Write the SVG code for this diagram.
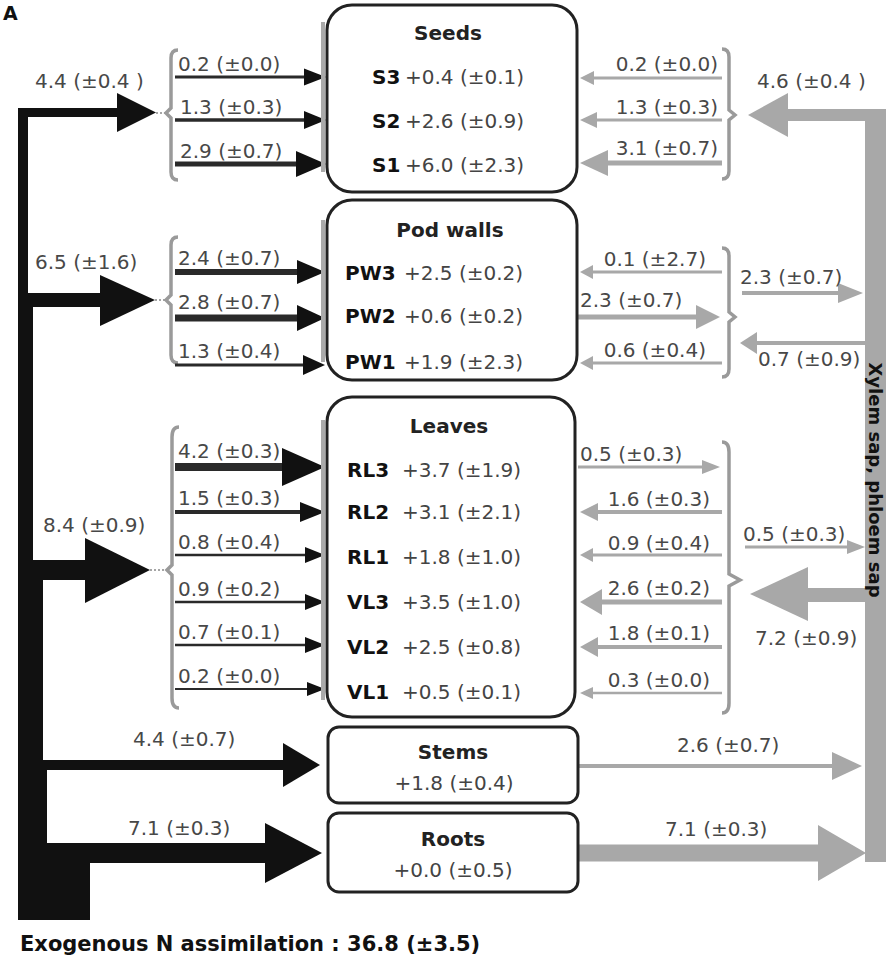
<svg xmlns="http://www.w3.org/2000/svg" width="886" height="959" viewBox="0 0 886 959">
<style>
text{font-family:"DejaVu Sans","Liberation Sans",sans-serif;}
.lbl{font-size:20px;fill:#484848;}
.nm{font-weight:bold;fill:#111;}
.val{fill:#444;}
.row{font-size:20px;}
.ttl{font-size:20px;font-weight:bold;fill:#222;text-anchor:middle;}
.end{text-anchor:end;}
.box{fill:#fff;stroke:#222;stroke-width:3;}
.edge{stroke:#aaa;stroke-width:4;}
.blk{fill:#111;}
.dk{stroke:#2a2a2a;}
.dkf{fill:#111;}
.gr{stroke:#a8a8a8;}
.grf{fill:#a8a8a8;}
.brk{fill:none;stroke:#9a9a9a;stroke-width:3.5;}
.dot{stroke:#888;stroke-width:1.5;stroke-dasharray:2 2;}
</style>
<rect width="886" height="959" fill="#fff"/>
<text x="3" y="20" font-size="19" font-weight="bold" fill="#111">A</text>

<g id="connectors">
  <!-- black trunk -->
  <path class="blk" d="M18,108 L120,108 L120,117 L28,117 L28,293 L105,293 L105,307 L33,307 L33,560 L90,560 L90,580 L43,580 L43,760 L285,760 L285,770 L47,770 L47,843 L268,843 L268,863 L90,863 L90,920 L18,920 Z"/>
  <polygon class="blk" points="117,93 156,112.5 117,132"/>
  <polygon class="blk" points="100,275 155,300 100,326"/>
  <polygon class="blk" points="85,538 150,570 85,603"/>
  <polygon class="blk" points="283,743 320,765 283,787"/>
  <polygon class="blk" points="265,823 322,853 265,883"/>
  <line class="dot" x1="156" y1="113" x2="166" y2="113"/>
  <line class="dot" x1="155" y1="300" x2="166" y2="300"/>
  <line class="dot" x1="150" y1="570" x2="167" y2="570"/>

  <!-- left brackets -->
  <path class="brk" d="M178,50 Q171,50 171,58 L171,108 L166,113 L171,118 L171,172 Q171,180 178,180"/>
  <path class="brk" d="M178,237 Q171,237 171,245 L171,295 L166,300 L171,305 L171,355 Q171,363 178,363"/>
  <path class="brk" d="M179,427 Q172,427 172,437 L172,565 L167,570 L172,575 L172,698 Q172,708 179,708"/>

  <!-- right brackets -->
  <path class="brk" d="M722,49 Q729,49 729,57 L729,110 L735,115 L729,120 L729,171 Q729,179 722,179"/>
  <path class="brk" d="M722,248 Q729,248 729,256 L729,312 L735,317 L729,322 L729,369 Q729,377 722,377"/>
  <path class="brk" d="M722,442 Q729,442 729,452 L729,574 L740,580 L729,586 L729,703 Q729,713 722,713"/>

  <!-- seeds in -->
  <line class="dk" x1="175" y1="77" x2="306" y2="77" stroke-width="3"/>
  <polygon class="dkf" points="304,68.5 326,77 304,85.5"/>
  <line class="dk" x1="175" y1="120" x2="306" y2="120" stroke-width="3.5"/>
  <polygon class="dkf" points="304,111 326,120 304,129"/>
  <line class="dk" x1="175" y1="164" x2="298" y2="164" stroke-width="5"/>
  <polygon class="dkf" points="296,151 326,164 296,177"/>

  <!-- pod walls in -->
  <line class="dk" x1="175" y1="272" x2="300" y2="272" stroke-width="6"/>
  <polygon class="dkf" points="297,260 325,272 297,284"/>
  <line class="dk" x1="175" y1="318" x2="300" y2="318" stroke-width="7"/>
  <polygon class="dkf" points="297,305 325,318 297,331"/>
  <line class="dk" x1="175" y1="365" x2="306" y2="365" stroke-width="3"/>
  <polygon class="dkf" points="303,355 325,365 303,375"/>

  <!-- leaves in -->
  <line class="dk" x1="175" y1="467" x2="285" y2="467" stroke-width="8"/>
  <polygon class="dkf" points="282,448 325,467 282,486"/>
  <line class="dk" x1="175" y1="512" x2="302" y2="512" stroke-width="4"/>
  <polygon class="dkf" points="300,502 325,512 300,522"/>
  <line class="dk" x1="175" y1="555" x2="306" y2="555" stroke-width="2.5"/>
  <polygon class="dkf" points="305,547 325,555 305,563"/>
  <line class="dk" x1="175" y1="602" x2="306" y2="602" stroke-width="2.5"/>
  <polygon class="dkf" points="305,594 325,602 305,610"/>
  <line class="dk" x1="175" y1="645" x2="306" y2="645" stroke-width="2.5"/>
  <polygon class="dkf" points="305,637 325,645 305,653"/>
  <line class="dk" x1="175" y1="689" x2="308" y2="689" stroke-width="2"/>
  <polygon class="dkf" points="307,682 325,689 307,696"/>

  <!-- seeds out -->
  <line class="gr" x1="590" y1="78" x2="722" y2="78" stroke-width="3"/>
  <polygon class="grf" points="594,71 580,78 594,85"/>
  <line class="gr" x1="590" y1="120" x2="722" y2="120" stroke-width="3"/>
  <polygon class="grf" points="597,112 580,120 597,128"/>
  <line class="gr" x1="600" y1="163" x2="722" y2="163" stroke-width="5"/>
  <polygon class="grf" points="608,150 580,163 608,176"/>

  <!-- pod walls out -->
  <line class="gr" x1="590" y1="272" x2="722" y2="272" stroke-width="3"/>
  <polygon class="grf" points="593,265 580,272 593,279"/>
  <line class="gr" x1="578" y1="317" x2="700" y2="317" stroke-width="5"/>
  <polygon class="grf" points="696,305 720,317 696,329"/>
  <line class="gr" x1="590" y1="363" x2="722" y2="363" stroke-width="3"/>
  <polygon class="grf" points="593,356 580,363 593,370"/>

  <!-- leaves out -->
  <line class="gr" x1="578" y1="467" x2="705" y2="467" stroke-width="3"/>
  <polygon class="grf" points="702,460 720,467 702,474"/>
  <line class="gr" x1="595" y1="512" x2="722" y2="512" stroke-width="4"/>
  <polygon class="grf" points="598,503 580,512 598,521"/>
  <line class="gr" x1="590" y1="555" x2="722" y2="555" stroke-width="3"/>
  <polygon class="grf" points="593,548 580,555 593,562"/>
  <line class="gr" x1="598" y1="602" x2="722" y2="602" stroke-width="5"/>
  <polygon class="grf" points="602,589 580,602 602,615"/>
  <line class="gr" x1="595" y1="647" x2="722" y2="647" stroke-width="4"/>
  <polygon class="grf" points="598,637 580,647 598,657"/>
  <line class="gr" x1="590" y1="693" x2="722" y2="693" stroke-width="2.5"/>
  <polygon class="grf" points="593,687 580,693 593,699"/>

  <!-- right gray bar and outer arrows -->
  <rect class="grf" x="865" y="109" width="25" height="753"/>
  <line class="gr" x1="785" y1="115" x2="870" y2="115" stroke-width="12"/>
  <polygon class="grf" points="788,93 748,115 788,137"/>
  <line class="gr" x1="742" y1="293" x2="840" y2="293" stroke-width="4"/>
  <polygon class="grf" points="838,283 863,293 838,303"/>
  <line class="gr" x1="755" y1="343" x2="866" y2="343" stroke-width="4"/>
  <polygon class="grf" points="757,332 740,343 757,354"/>
  <line class="gr" x1="745" y1="547" x2="850" y2="547" stroke-width="3"/>
  <polygon class="grf" points="847,540 865,547 847,554"/>
  <line class="gr" x1="805" y1="595" x2="866" y2="595" stroke-width="14"/>
  <polygon class="grf" points="808,567 750,594 808,621"/>
  <line class="gr" x1="578" y1="766" x2="835" y2="766" stroke-width="4"/>
  <polygon class="grf" points="832,752 862,766 832,780"/>
  <line class="gr" x1="578" y1="853" x2="822" y2="853" stroke-width="17"/>
  <polygon class="grf" points="818,825 866,853 818,881"/>
  <text transform="translate(869,480) rotate(90)" text-anchor="middle" font-size="18" font-weight="bold" fill="#111">Xylem sap, phloem sap</text>

  <!-- flow labels -->
  <g class="lbl">
    <text x="35" y="88">4.4 (±0.4 )</text>
    <text x="35" y="269">6.5 (±1.6)</text>
    <text x="43" y="532">8.4 (±0.9)</text>
    <text x="133" y="746">4.4 (±0.7)</text>
    <text x="128" y="835">7.1 (±0.3)</text>

    <text x="178" y="71">0.2 (±0.0)</text>
    <text x="180" y="114">1.3 (±0.3)</text>
    <text x="180" y="158">2.9 (±0.7)</text>

    <text x="178" y="265">2.4 (±0.7)</text>
    <text x="178" y="309">2.8 (±0.7)</text>
    <text x="178" y="358">1.3 (±0.4)</text>

    <text x="178" y="458">4.2 (±0.3)</text>
    <text x="178" y="505">1.5 (±0.3)</text>
    <text x="178" y="549">0.8 (±0.4)</text>
    <text x="178" y="596">0.9 (±0.2)</text>
    <text x="178" y="639">0.7 (±0.1)</text>
    <text x="178" y="683">0.2 (±0.0)</text>

    <text class="end" x="718" y="71">0.2 (±0.0)</text>
    <text class="end" x="718" y="114">1.3 (±0.3)</text>
    <text class="end" x="718" y="155">3.1 (±0.7)</text>

    <text class="end" x="706" y="266">0.1 (±2.7)</text>
    <text x="580" y="307">2.3 (±0.7)</text>
    <text class="end" x="706" y="357">0.6 (±0.4)</text>

    <text x="580" y="461">0.5 (±0.3)</text>
    <text class="end" x="710" y="506">1.6 (±0.3)</text>
    <text class="end" x="710" y="550">0.9 (±0.4)</text>
    <text class="end" x="710" y="595">2.6 (±0.2)</text>
    <text class="end" x="710" y="640">1.8 (±0.1)</text>
    <text class="end" x="710" y="687">0.3 (±0.0)</text>

    <text x="757" y="88">4.6 (±0.4 )</text>
    <text x="740" y="284">2.3 (±0.7)</text>
    <text x="758" y="366">0.7 (±0.9)</text>
    <text x="743" y="541">0.5 (±0.3)</text>
    <text x="755" y="645">7.2 (±0.9)</text>
    <text x="677" y="752">2.6 (±0.7)</text>
    <text x="665" y="836">7.1 (±0.3)</text>
  </g>
</g>

<g id="seeds">
  <rect class="box" x="327" y="5" width="250" height="187" rx="25"/>
  <line class="edge" x1="323" y1="22" x2="323" y2="172"/>
  <text class="ttl" x="448" y="40">Seeds</text>
  <text class="row" y="84"><tspan class="nm" x="372">S3</tspan><tspan class="val" x="405">+0.4 (±0.1)</tspan></text>
  <text class="row" y="128"><tspan class="nm" x="372">S2</tspan><tspan class="val" x="405">+2.6 (±0.9)</tspan></text>
  <text class="row" y="172"><tspan class="nm" x="372">S1</tspan><tspan class="val" x="405">+6.0 (±2.3)</tspan></text>
</g>

<g id="podwalls">
  <rect class="box" x="327" y="200" width="250" height="180" rx="25"/>
  <line class="edge" x1="323" y1="220" x2="323" y2="362"/>
  <text class="ttl" x="450" y="237">Pod walls</text>
  <text class="row" y="280"><tspan class="nm" x="345">PW3</tspan><tspan class="val" x="404">+2.5 (±0.2)</tspan></text>
  <text class="row" y="323"><tspan class="nm" x="345">PW2</tspan><tspan class="val" x="404">+0.6 (±0.2)</tspan></text>
  <text class="row" y="369"><tspan class="nm" x="345">PW1</tspan><tspan class="val" x="404">+1.9 (±2.3)</tspan></text>
</g>

<g id="leaves">
  <rect class="box" x="327" y="397" width="248" height="320" rx="25"/>
  <line class="edge" x1="323" y1="420" x2="323" y2="700"/>
  <text class="ttl" x="449" y="433">Leaves</text>
  <text class="row" y="477"><tspan class="nm" x="347">RL3</tspan><tspan class="val" x="402">+3.7 (±1.9)</tspan></text>
  <text class="row" y="519"><tspan class="nm" x="347">RL2</tspan><tspan class="val" x="402">+3.1 (±2.1)</tspan></text>
  <text class="row" y="564"><tspan class="nm" x="347">RL1</tspan><tspan class="val" x="402">+1.8 (±1.0)</tspan></text>
  <text class="row" y="609"><tspan class="nm" x="347">VL3</tspan><tspan class="val" x="402">+3.5 (±1.0)</tspan></text>
  <text class="row" y="654"><tspan class="nm" x="347">VL2</tspan><tspan class="val" x="402">+2.5 (±0.8)</tspan></text>
  <text class="row" y="699"><tspan class="nm" x="347">VL1</tspan><tspan class="val" x="402">+0.5 (±0.1)</tspan></text>
</g>

<g id="stems">
  <rect class="box" x="328" y="727" width="250" height="76" rx="11"/>
  <text class="ttl" x="453" y="759">Stems</text>
  <text class="row val" x="454" y="790" text-anchor="middle">+1.8 (±0.4)</text>
</g>

<g id="roots">
  <rect class="box" x="328" y="813" width="250" height="79" rx="11"/>
  <text class="ttl" x="453" y="846">Roots</text>
  <text class="row val" x="453" y="877" text-anchor="middle">+0.0 (±0.5)</text>
</g>

<text x="20" y="951" font-size="21" font-weight="bold" fill="#111">Exogenous N assimilation : 36.8 (±3.5)</text>
</svg>
